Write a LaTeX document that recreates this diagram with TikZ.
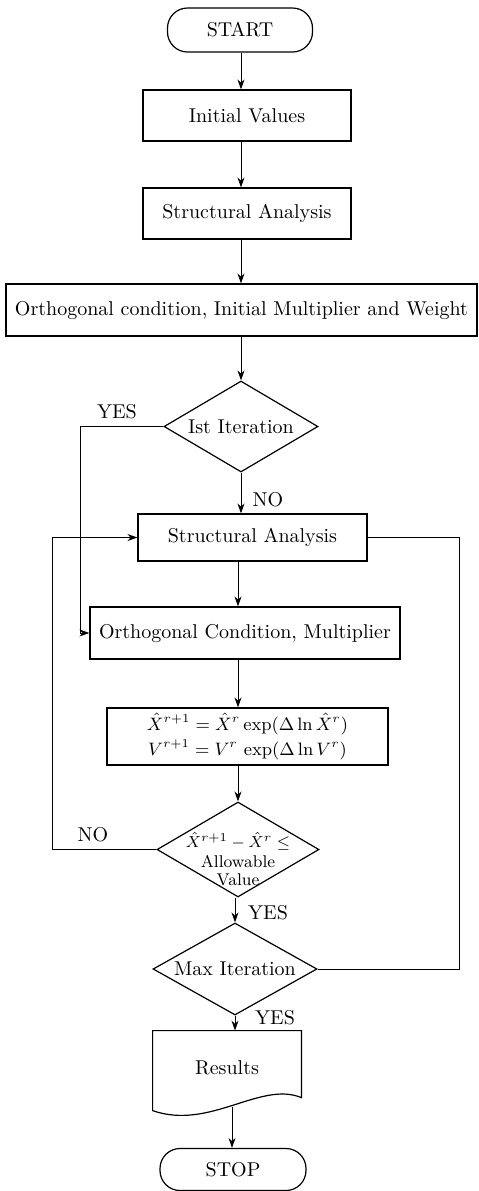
\documentclass[tikz,border=0pt]{standalone}
\usetikzlibrary{shapes.geometric,arrows.meta,calc}
\begin{document}
\begin{tikzpicture}[x=0.5pt,y=-0.5pt,
  box/.style={draw,line width=0.6pt,inner sep=1pt,align=center},
  term/.style={box,rounded corners=10pt},
  dec/.style={draw,diamond,aspect=1.75,line width=0.6pt,inner sep=0pt,align=center},
  flow/.style={line width=0.5pt,-{Stealth[length=5pt,width=3.5pt]}},
  conn/.style={line width=0.5pt},
  lab/.style={inner sep=1pt}]
\useasboundingbox (0,0) rectangle (478,1191);
% column coordinates
\coordinate (a1) at (241,0);
\coordinate (a2) at (238,0);
\coordinate (a3) at (235,0);
\coordinate (a4) at (232,0);
\coordinate (cy) at (80,0);
\coordinate (cn) at (52,0);
\coordinate (cr) at (459,0);
% nodes
\node[term,minimum width=72.5pt,minimum height=22pt] (start) at (240,30) {START};
\node[box,minimum width=104pt,minimum height=25.5pt] (init) at (247,115.5) {Initial Values};
\node[box,minimum width=104pt,minimum height=25.5pt] (sa1) at (247,213.5) {Structural Analysis};
\node[box,minimum width=235.5pt,minimum height=26pt] (orth1) at (241.5,310) {Orthogonal condition, Initial Multiplier and Weight};
\node[dec,minimum width=77pt,minimum height=45.5pt] (d1) at (241,426.5) {Ist Iteration};
\node[box,minimum width=114.5pt,minimum height=23.5pt] (sa2) at (252.5,537.5) {Structural Analysis};
\node[box,minimum width=155pt,minimum height=26pt] (orth2) at (245,633) {Orthogonal Condition, Multiplier};
\node[box,minimum width=140.5pt,minimum height=28.5pt,font=\fontsize{9}{10}\selectfont] (form) at (247.5,736.5)
  {$\hat{X}^{r+1}=\hat{X}^{r}\exp(\Delta\ln\hat{X}^{r})$\\[2.5pt] $V^{r+1}=V^{r}\,\exp(\Delta\ln V^{r})$};
\node[dec,minimum width=81pt,minimum height=47.5pt] (d2) at (238,849.5) {};
\node[align=center,inner sep=0pt,font=\fontsize{8.5}{9}\selectfont] (d2t) at (238,859)
  {$\hat{X}^{r+1}-\hat{X}^{r}\leq$\\[1pt]Allowable\\Value};
\node[dec,minimum width=82pt,minimum height=46pt] (d3) at (235,969) {Max Iteration};
\node[minimum width=74pt,minimum height=37pt,inner sep=0pt] (res) at (227,1068) {Results};
\draw[line width=0.6pt] (res.north west) -- (res.north east) -- ($(res.north east)+(0,67)$)
  .. controls ($(res.north east)+(-41,50)$) and ($(res.north west)+(57,100)$) .. ($(res.north west)+(0,80)$) -- cycle;
\node[term,minimum width=73pt,minimum height=21pt] (stop) at (233,1169.5) {STOP};
% main flow
\draw[flow] (start.south -| a1) -- (init.north -| a1);
\draw[flow] (init.south -| a1) -- (sa1.north -| a1);
\draw[flow] (sa1.south -| a1) -- (orth1.north -| a1);
\draw[flow] (orth1.south -| a1) -- (d1.north);
\draw[flow] (d1.south) -- (sa2.north -| a1);
\draw[flow] (sa2.south -| a2) -- (orth2.north -| a2);
\draw[flow] (orth2.south -| a2) -- (form.north -| a2);
\draw[flow] (form.south -| a2) -- (d2.north);
\draw[flow] (d2.south -| a3) -- (d3.north);
\draw[flow] (d3.south) -- (res.north -| a3);
\draw[flow] ($(res.south -| a4)+(0,2)$) -- (stop.north -| a4);
% loops
\draw[flow] (d1.west) -- (d1.west -| cy) |- (orth2.west);
\draw[flow] (d2.west) -- (d2.west -| cn) |- (sa2.west);
\draw[conn] (d3.east) -- (d3.east -| cr) |- (sa2.east);
% labels
\node[lab] (yes1) at (117,412) {YES};
\node[lab] (no1) at (268,500) {NO};
\node[lab] (no2) at (93,835) {NO};
\node[lab] (yes2) at (268,913) {YES};
\node[lab] (yes3) at (275,1018) {YES};
\end{tikzpicture}
\end{document}
